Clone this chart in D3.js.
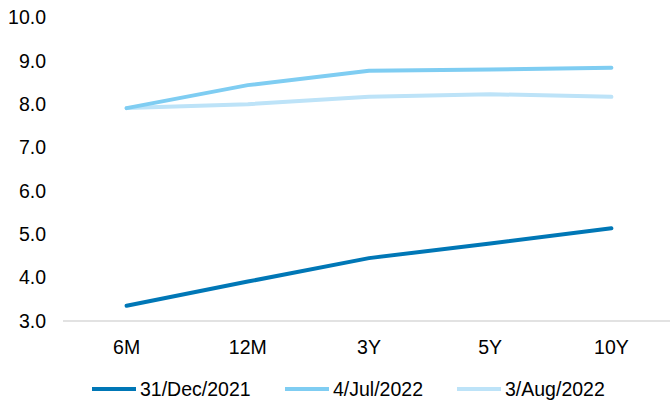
<!DOCTYPE html>
<meta charset="utf-8">
<style>
    body {
        margin: 0;
        background-color: #fff;
    }
    .axis text {
        font: 19.5px "Liberation Sans", Arial, sans-serif;
        fill: #000;
    }
    .line {
        fill: none;
        stroke-width: 4px;
        stroke-linecap: round;
        stroke-linejoin: round;
    }
    .legend text {
        font: 19.5px "Liberation Sans", Arial, sans-serif;
        fill: #000;
    }
</style>
<body>
<svg width="670" height="400"></svg>
<script src="https://d3js.org/d3.v7.min.js"></script>
<script>
    // data
    var tenors = ["6M", "12M", "3Y", "5Y", "10Y"];
    var seriesNames = ["31/Dec/2021", "4/Jul/2022", "3/Aug/2022"];
    var dec2021 = [3.35, 3.91, 4.45, 4.79, 5.14];
    var jul2022 = [7.91, 8.44, 8.77, 8.80, 8.84];
    var aug2022 = [7.91, 8.00, 8.17, 8.23, 8.17];
    var yTicks = [3, 4, 5, 6, 7, 8, 9, 10];
    var colors = ["#0077B6", "#7FCDF2", "#BDE3F8"];

    var series = [dec2021, jul2022, aug2022].map(function(vals, i) {
        return {
            name: seriesNames[i],
            color: colors[i],
            values: vals.map(function(v, j) { return {tenor: tenors[j], value: v}; })
        };
    });

    var svg = d3.select("svg");

    var x = d3.scaleBand().domain(tenors).range([66, 672]).padding(0);
    var y = d3.scaleLinear().domain([3, 10]).range([321, 17.5]);

    // y axis labels only
    var yAxis = svg.append("g")
        .attr("class", "axis axis--y")
        .attr("transform", "translate(46,0)")
        .call(d3.axisLeft(y).tickValues(yTicks).tickSize(0).tickPadding(0)
            .tickFormat(d3.format(".1f")));
    yAxis.select(".domain").remove();

    // x axis
    var xAxis = svg.append("g")
        .attr("class", "axis axis--x")
        .attr("transform", "translate(0,321)")
        .call(d3.axisBottom(x).tickSize(0).tickPadding(19));
    xAxis.select(".domain")
        .attr("d", "M63,0H670")
        .attr("stroke", "#D9D9D9")
        .attr("stroke-width", 1.5);

    var line = d3.line()
        .x(function(d) { return x(d.tenor) + x.bandwidth() / 2; })
        .y(function(d) { return y(d.value); });

    // draw lightest on bottom so dark stays on top
    svg.selectAll(".line")
        .data(series.slice().reverse())
        .enter().append("path")
        .attr("class", "line")
        .attr("stroke", function(d) { return d.color; })
        .attr("d", function(d) { return line(d.values); });

    // legend
    var legendX = [92, 285, 457];
    var legend = svg.append("g").attr("class", "legend");
    var item = legend.selectAll("g")
        .data(series)
        .enter().append("g")
        .attr("transform", function(d, i) { return "translate(" + legendX[i] + ",389)"; });
    item.append("line")
        .attr("x1", 0).attr("x2", 44)
        .attr("stroke", function(d) { return d.color; })
        .attr("stroke-width", 4);
    item.append("text")
        .attr("x", 48)
        .attr("dy", "0.35em")
        .text(function(d) { return d.name; });
</script>
